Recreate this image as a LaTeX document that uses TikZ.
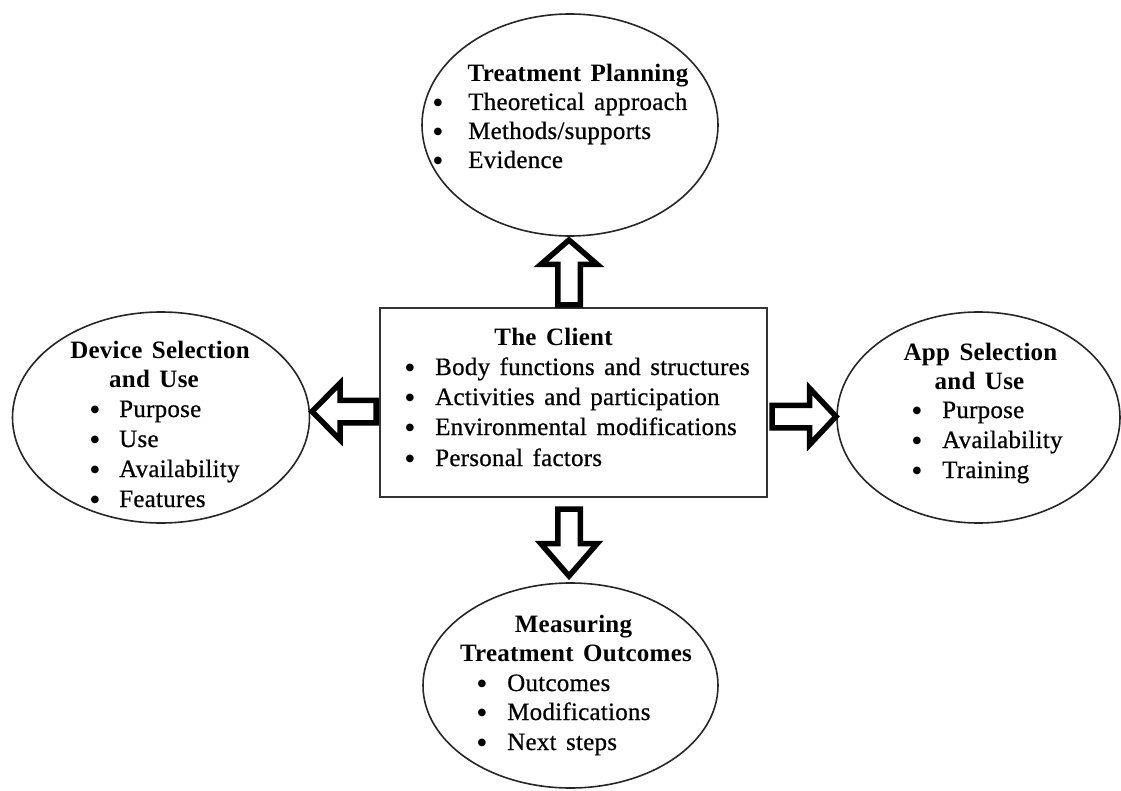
\documentclass[tikz,border=0pt]{standalone}
\usepackage{fontspec}
\setmainfont[LetterSpace=1.0,UprightFeatures={FakeBold=0.6}]{Liberation Serif}
\newfontfamily\symfont{DejaVu Sans}
\usetikzlibrary{shapes.geometric,calc}
\newcommand\bitem[5]{%
  \node[bul] (#1b) at (#2,#4) {●};
  \node[txt] (#1) at (#3,#4) {#5};}
\newcommand\blockarr[4]{%
  \begin{scope}[shift={#1},rotate=#2]
    \draw[blk] (0,-11.25) -- (#4,-11.25) -- (#4,-28.25) -- (#3,0)
      -- (#4,28.25) -- (#4,11.25) -- (0,11.25) -- cycle;
  \end{scope}}
\begin{document}
\begin{tikzpicture}[x=1pt,y=-1pt,
  ell/.style={draw=black!85, line width=1.6pt, ellipse, inner sep=0pt},
  boxst/.style={draw=black!80, line width=2pt, inner sep=0pt},
  txt/.style={anchor=base west, inner sep=0pt, font={\fontsize{25}{29}\selectfont\spaceskip=.38em\relax}},
  bul/.style={anchor=base, inner sep=0pt, yshift=4.5pt, font={\symfont\fontsize{10}{12}\selectfont}},
  ttl/.style={anchor=base, inner sep=0pt, font={\fontsize{25}{29}\selectfont\bfseries\spaceskip=.38em\relax}},
  blk/.style={draw=black, line width=5.5pt, fill=white, line join=miter, miter limit=10},
]
\useasboundingbox (0,0) rectangle (1121,791);
% ellipses
\node[ell, minimum width=296pt, minimum height=222pt] (tp) at (570,125) {};
\node[ell, minimum width=297pt, minimum height=211pt] (dev) at (161,417.5) {};
\node[ell, minimum width=283pt, minimum height=211pt] (app) at (978.5,417.5) {};
\node[ell, minimum width=295pt, minimum height=205pt] (mto) at (570.5,685.5) {};
% client box
\node[boxst, minimum width=387pt, minimum height=189pt] (client) at (573.5,402.5) {};
% block arrows
\blockarr{(569,305)}{90}{65}{40.5}
\blockarr{(569,509)}{-90}{67}{34.5}
\blockarr{(376,411.5)}{180}{64}{36}
\blockarr{(772,416.5)}{0}{64}{37.5}
% texts: treatment planning
\node[ttl] (tpt) at (578,82) {Treatment Planning};
\bitem{tp1}{438}{468}{110}{Theoretical approach}
\bitem{tp2}{438}{468}{139}{Methods/supports}
\bitem{tp3}{438}{468}{168}{Evidence}
% device
\node[ttl] (devt1) at (160,358) {Device Selection};
\node[ttl] (devt2) at (154,387) {and Use};
\bitem{dv1}{95}{119}{417}{Purpose}
\bitem{dv2}{95}{119}{447}{Use}
\bitem{dv3}{95}{119}{477}{Availability}
\bitem{dv4}{95}{119}{507}{Features}
% app
\node[ttl] (appt1) at (980.5,360) {App Selection};
\node[ttl] (appt2) at (979.5,389) {and Use};
\bitem{ap1}{917}{942}{418}{Purpose}
\bitem{ap2}{917}{942}{448}{Availability}
\bitem{ap3}{917}{942}{478}{Training}
% measuring
\node[ttl] (mtot1) at (573.5,632) {Measuring};
\node[ttl] (mtot2) at (576,661) {Treatment Outcomes};
\bitem{mt1}{482}{507}{691}{Outcomes}
\bitem{mt2}{482}{507}{720}{Modifications}
\bitem{mt3}{482}{507}{750}{Next steps}
% client
\node[ttl] (clt) at (553.5,345) {The Client};
\bitem{cl1}{410}{435}{375}{Body functions and structures}
\bitem{cl2}{410}{435}{405}{Activities and participation}
\bitem{cl3}{410}{435}{435}{Environmental modifications}
\bitem{cl4}{410}{435}{466}{Personal factors}
\end{tikzpicture}
\end{document}
